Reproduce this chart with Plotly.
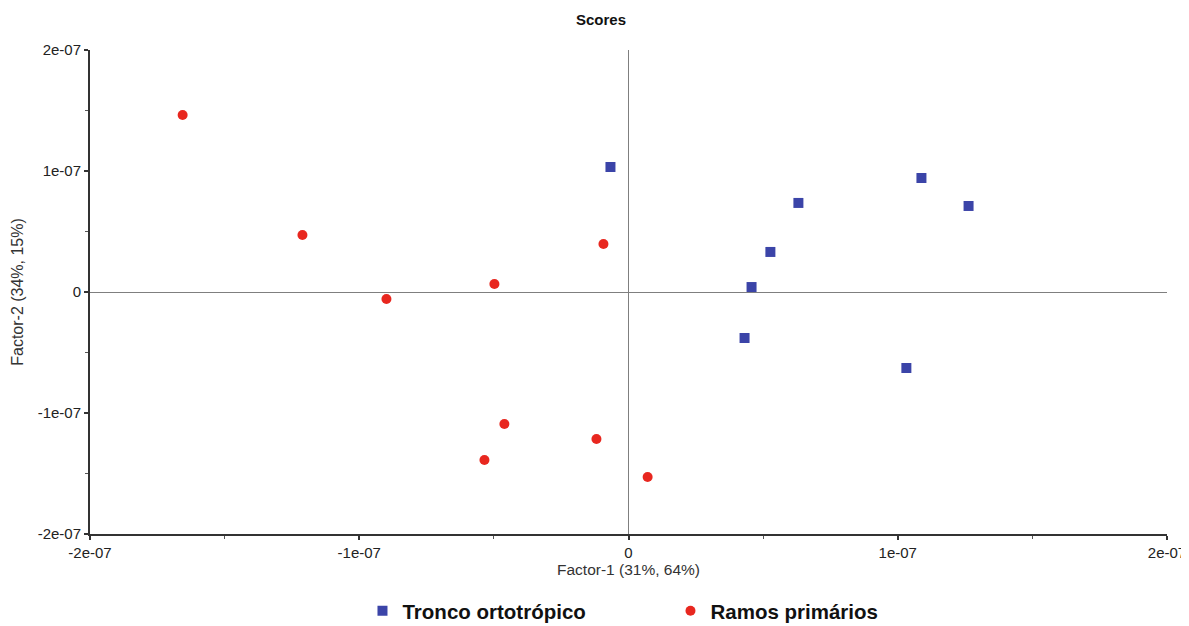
import plotly.graph_objects as go

# Data (scores)
tronco_x = [-0.067e-07, 0.631e-07, 0.527e-07, 0.457e-07, 0.431e-07, 1.088e-07, 1.263e-07, 1.032e-07]
tronco_y = [1.033e-07, 0.736e-07, 0.331e-07, 0.041e-07, -0.380e-07, 0.942e-07, 0.711e-07, -0.628e-07]

ramos_x = [-1.656e-07, -1.211e-07, -0.899e-07, -0.498e-07, -0.093e-07, -0.461e-07, -0.535e-07, -0.119e-07, 0.071e-07]
ramos_y = [1.463e-07, 0.471e-07, -0.058e-07, 0.066e-07, 0.397e-07, -1.091e-07, -1.388e-07, -1.215e-07, -1.529e-07]

tick_vals = [-2e-07, -1e-07, 0, 1e-07, 2e-07]
tick_text = ["-2e-07", "-1e-07", "0", "1e-07", "2e-07"]

FONT = "Liberation Sans, Arial"
W, H = 1181, 618  # page body has an 8px margin

fig = go.Figure()
fig.add_trace(go.Scatter(
    x=tronco_x, y=tronco_y, mode="markers", name="<b>Tronco ortotrópico</b>",
    marker=dict(symbol="square", size=10, color="#3b44a8"),
))
fig.add_trace(go.Scatter(
    x=ramos_x, y=ramos_y, mode="markers", name="<b>Ramos primários</b>",
    marker=dict(symbol="circle", size=10, color="#e8271f"),
))

axis_common = dict(
    tickvals=tick_vals, ticktext=tick_text,
    showgrid=False, zeroline=True, zerolinecolor="#7f7f7f", zerolinewidth=1,
    showline=True, linecolor="#333333", linewidth=2,
    ticks="outside", ticklen=4, tickwidth=2, tickcolor="#333333",
    tickfont=dict(family=FONT, size=15, color="#222222"),
    minor=dict(dtick=0.5e-07, ticks="outside", ticklen=3, tickcolor="#555555", tickwidth=1, showgrid=False),
    automargin=False,
)

fig.update_xaxes(range=[-2e-07, 2e-07], **axis_common,
                 title=dict(text="Factor-1 (31%, 64%)", standoff=3,
                            font=dict(family=FONT, size=15.5, color="#333333")))
fig.update_yaxes(range=[-2e-07, 2e-07], **axis_common,
                 title=dict(text="Factor-2 (34%, 15%)", standoff=10,
                            font=dict(family=FONT, size=16, color="#333333")))

fig.update_layout(
    width=W, height=H,
    paper_bgcolor="white", plot_bgcolor="white",
    margin=dict(l=82, r=22, t=42, b=92),
    title=dict(text="<b>Scores</b>", x=593 / W, xanchor="center", y=1 - 12 / H, yanchor="middle",
               xref="container", yref="container",
               font=dict(family=FONT, size=15, color="#111111")),
    legend=dict(orientation="h", x=0.253, xanchor="left",
                y=1 - 583 / H, yanchor="top", yref="container",
                font=dict(family=FONT, size=20.5, color="#111111"),
                itemwidth=30, tracegroupgap=0, entrywidth=263),
    showlegend=True,
)

fig.write_html("out.html")
